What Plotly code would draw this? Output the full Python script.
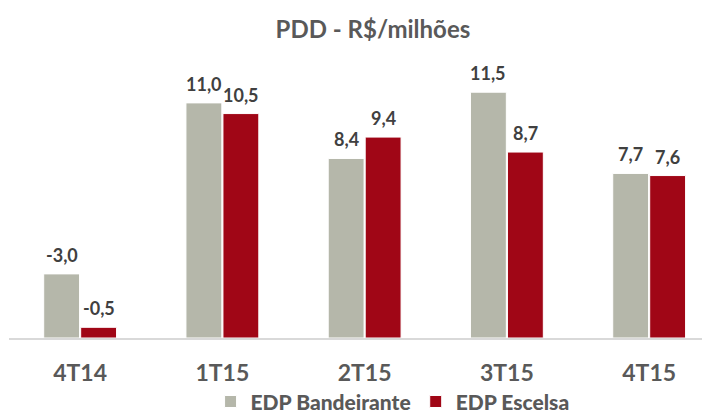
import plotly.graph_objects as go

# quarters and PDD values (R$ millions); 4T14 values are drawn by magnitude
quarters = ["4T14", "1T15", "2T15", "3T15", "4T15"]
bandeirante = [-3.0, 11.0, 8.4, 11.5, 7.7]
escelsa = [-0.5, 10.5, 9.4, 8.7, 7.6]

grey = "#B5B7AA"
red = "#A00616"
font_family = "Lato, 'Open Sans', sans-serif"


def fmt(v):
    return "{:.1f}".format(v).replace(".", ",")


fig = go.Figure()
series = [("EDP Bandeirante", bandeirante, grey, -18.5),
          ("EDP Escelsa", escelsa, red, 18.5)]
for name, vals, color, shift in series:
    fig.add_trace(go.Bar(
        x=quarters, y=[abs(v) for v in vals], name=name,
        marker=dict(color=color, line=dict(color="white", width=1)),
    ))
    # value labels sitting a little above each bar
    for q, v in zip(quarters, vals):
        fig.add_annotation(x=q, y=abs(v), text=fmt(v), showarrow=False,
                           xshift=shift, yshift=6, yanchor="bottom",
                           font=dict(size=18, color="#404040", family=font_family,
                                     weight="bold"))

# page body adds an 8px offset, so margins are pulled in by that much
fig.update_layout(
    width=710, height=412,
    margin=dict(l=1, r=0, t=50, b=82, autoexpand=False),
    paper_bgcolor="white", plot_bgcolor="white",
    barmode="group", bargap=0.48, bargroupgap=0.03,
    title=dict(text="PDD - R$/milhões", x=0.514, xanchor="center",
               xref="container", y=0.947, yanchor="middle",
               font=dict(size=24, color="#595959", family=font_family, weight="bold")),
    font=dict(family=font_family, color="#595959"),
    legend=dict(orientation="h", x=0.541, xanchor="center", y=-0.228, yanchor="middle",
                font=dict(size=21, color="#595959", family=font_family, weight=900),
                itemwidth=30, traceorder="normal"),
    showlegend=True,
)
fig.update_xaxes(showline=True, linecolor="#D9D9D9", linewidth=1.5,
                 range=[-0.5, 4.484],
                 ticks="outside", ticklen=14, tickcolor="rgba(0,0,0,0)",
                 tickfont=dict(size=23, color="#595959", family=font_family,
                               weight="bold"))
fig.update_yaxes(visible=False, range=[0, 13.1])

fig.write_html("out.html")
